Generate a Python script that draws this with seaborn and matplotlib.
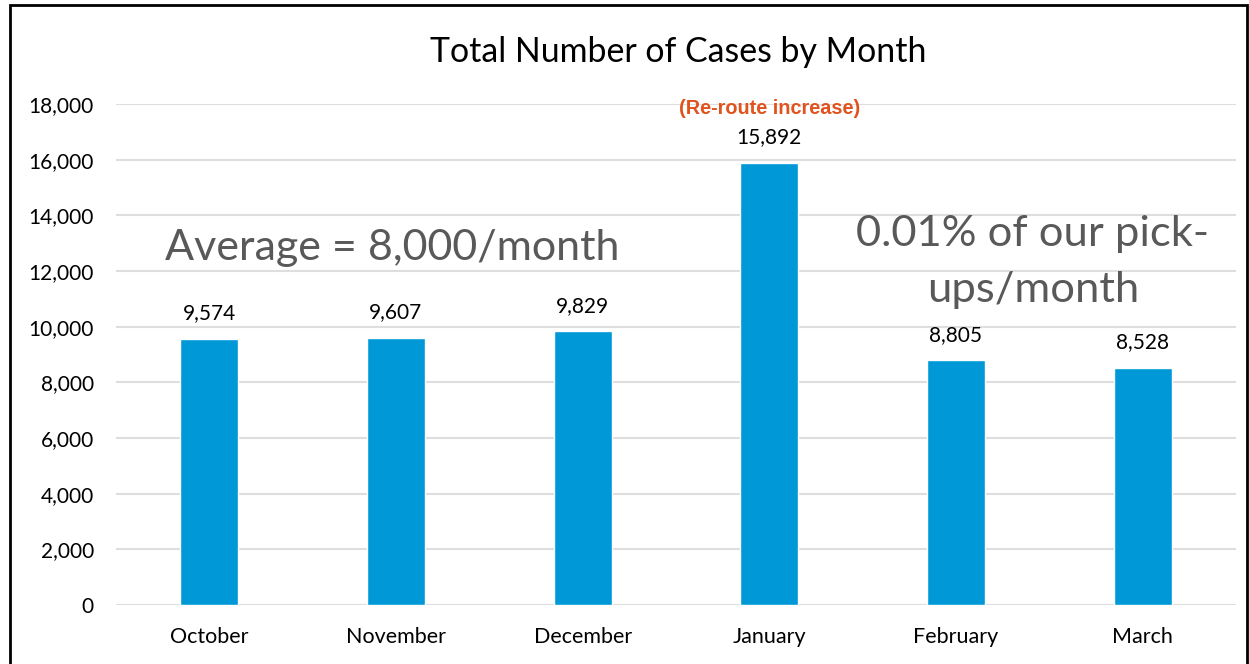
import matplotlib
matplotlib.use("Agg")
import matplotlib.pyplot as plt
import seaborn as sns
import pandas as pd
from matplotlib.patches import Rectangle

months = ["October", "November", "December", "January", "February", "March"]
cases = [9574, 9607, 9829, 15892, 8805, 8528]
yticks = [0, 2000, 4000, 6000, 8000, 10000, 12000, 14000, 16000, 18000]

title = "Total Number of Cases by Month"
note_jan = "(Re-route increase)"
avg_text = "Average = 8,000/month"
share_text = "0.01% of our pick-\nups/month"

sns.set_theme(style="white")
plt.rcParams['font.family'] = ['Lato', 'DejaVu Sans']

W, H = 1249, 664
fig = plt.figure(figsize=(W / 100, H / 100), dpi=100)
ax = fig.add_axes([116 / W, 1 - 605 / H, (1236 - 116) / W, (605 - 104) / H])

df = pd.DataFrame({"month": months, "cases": cases})
sns.barplot(data=df, x="month", y="cases", color="#0098D6", width=0.31,
            saturation=1, ax=ax, zorder=3)

ax.set_xlim(-0.5, len(months) - 0.5)
ax.set_ylim(0, 18000)
ax.set_yticks(yticks)
ax.set_yticklabels([f"{v:,}" for v in yticks])
ax.yaxis.grid(True, color="#DEDEDE", linewidth=1.5, zorder=0)
ax.set_axisbelow(True)
for s in ax.spines.values():
    s.set_visible(False)
ax.set_xlabel("")
ax.set_ylabel("")
ax.tick_params(axis="y", length=0, pad=16, labelsize=15, labelcolor="#000000")
ax.tick_params(axis="x", length=0, pad=16, labelsize=15.5, labelcolor="#000000")

ax.bar_label(ax.containers[0], labels=[f"{v:,}" for v in cases], padding=11,
             fontsize=15, color="#000000")

fig.text(678 / W, 1 - 52 / H, title, ha="center", va="center", fontsize=24.4, color="#000000")
ax.annotate(note_jan, xy=(3, cases[3]), xytext=(0, 39), textcoords="offset points",
            ha="center", va="center", fontsize=14.3, color="#E0531F", fontweight="semibold",
            family=["Liberation Sans Narrow", "Liberation Sans", "DejaVu Sans"])
fig.text(392 / W, 1 - 248 / H, avg_text, ha="center", va="center", fontsize=31, color="#595959")
fig.text(1033 / W, 1 - 262 / H, share_text, ha="center", va="center", fontsize=31.3,
         color="#595959", linespacing=1.6)

fig.patches.append(Rectangle((10 / W, -0.05), (1247 - 10) / W, 1.05 - 5 / H,
                             transform=fig.transFigure, fill=False,
                             edgecolor="#000000", linewidth=2))

fig.savefig("out.png", dpi=100)
